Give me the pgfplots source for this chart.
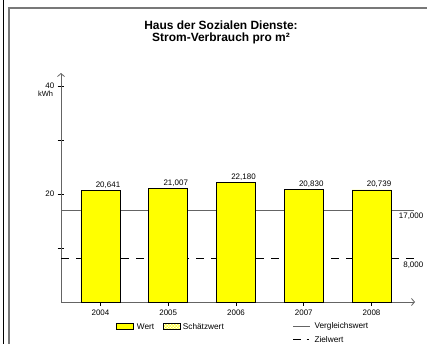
\documentclass[border=0pt]{standalone}
\usepackage{pgfplots}
\pgfplotsset{compat=1.18}
\usepackage{fontspec}
\setmainfont{Liberation Sans}
\usetikzlibrary{patterns,arrows.meta}
\definecolor{barY}{RGB}{255,255,0}
\definecolor{lineG}{RGB}{100,100,100}
\definecolor{frameG}{RGB}{120,120,120}
\begin{document}
\begin{tikzpicture}
\useasboundingbox (0,0) rectangle (427bp,-344bp);
% frame
\draw[black, line width=0.8bp] (3bp,0) -- (3bp,-344bp);
\draw[frameG, line width=1.6bp] (8.8bp,-344bp) -- (8.8bp,-7.9bp) -- (427bp,-7.9bp);
% title
\node[anchor=base, font=\fontsize{12}{13}\selectfont\bfseries, inner sep=0pt] at (221bp,-29.3bp) {Haus der Sozialen Dienste:};
\node[anchor=base, font=\fontsize{12}{13}\selectfont\bfseries, inner sep=0pt] at (221bp,-41.3bp) {Strom-Verbrauch pro m²};
\begin{axis}[
  at={(61bp,-302bp)}, anchor=south west,
  scale only axis, width=354bp, height=229bp,
  xmin=-0.583, xmax=4.642, ymin=0, ymax=42.4,
  axis lines=left,
  axis line style={draw=lineG, line width=0.8bp, -{Straight Barb[length=3bp,width=7bp]}},
  clip=false,
  ytick={10,20,30,40}, yticklabels={,20,,40},
  xtick={0,1,2,3,4}, xticklabels={2004,2005,2006,2007,2008},
  ytick align=center, xtick align=outside,
  ytick style={black, line width=0.7bp, /pgfplots/major tick length=6.5bp},
  xtick style={black, line width=0.7bp, /pgfplots/major tick length=3.5bp},
  tick label style={font=\fontsize{8}{9}\selectfont},
  yticklabel style={xshift=-1bp},
  /pgf/number format/fixed, /pgf/number format/fixed zerofill,
  /pgf/number format/precision=3, /pgf/number format/use comma,
  /pgf/number format/assume math mode=true,
]
\addplot[lineG, line width=1bp] coordinates {(-0.583,17) (4.627,17)};
\addplot[black, line width=0.9bp, dash pattern=on 8bp off 7bp] coordinates {(-0.583,8) (4.627,8)};
\addplot[ybar, bar width=39bp, fill=barY, draw=black, line width=0.8bp,
  nodes near coords,
  every node near coord/.append style={font=\fontsize{8}{9}\selectfont, inner sep=0pt, anchor=base, xshift=7.5bp, yshift=3bp}]
  coordinates {(0,20.641) (1,21.007) (2,22.180) (3,20.830) (4,20.739)};
\node[anchor=east, font=\fontsize{7.5}{8}\selectfont, inner sep=0pt] at (axis cs:-0.583,40) [xshift=-7.7bp, yshift=-8.3bp] {kWh};
\node[anchor=north east, font=\fontsize{8}{9}\selectfont, inner sep=0pt] at (axis cs:4.627,17) [xshift=9.5bp, yshift=-3bp] {17,000};
\node[anchor=north east, font=\fontsize{8}{9}\selectfont, inner sep=0pt] at (axis cs:4.627,8) [xshift=9.5bp, yshift=-3bp] {8,000};
\end{axis}
% legend
\draw[fill=barY, draw=black, line width=0.8bp] (116.7bp,-323.3bp) rectangle (133.3bp,-329.3bp);
\node[anchor=west, inner sep=0pt, font=\fontsize{8.3}{9}\selectfont] at (136.7bp,-326.7bp) {Wert};
\draw[pattern=crosshatch, pattern color=barY, draw=black, line width=0.8bp] (163.3bp,-323.3bp) rectangle (180bp,-329.3bp);
\node[anchor=west, inner sep=0pt, font=\fontsize{8.3}{9}\selectfont] at (182.7bp,-326.7bp) {Schätzwert};
\draw[lineG, line width=1bp] (293.3bp,-326.7bp) -- (310bp,-326.7bp);
\node[anchor=west, inner sep=0pt, font=\fontsize{8.3}{9}\selectfont] at (314.3bp,-326.7bp) {Vergleichswert};
\draw[black, line width=0.9bp, dash pattern=on 7.3bp off 6bp] (293.3bp,-339.4bp) -- (309bp,-339.4bp);
\node[anchor=west, inner sep=0pt, font=\fontsize{8.3}{9}\selectfont] at (314.3bp,-339.3bp) {Zielwert};
\end{tikzpicture}
\end{document}
